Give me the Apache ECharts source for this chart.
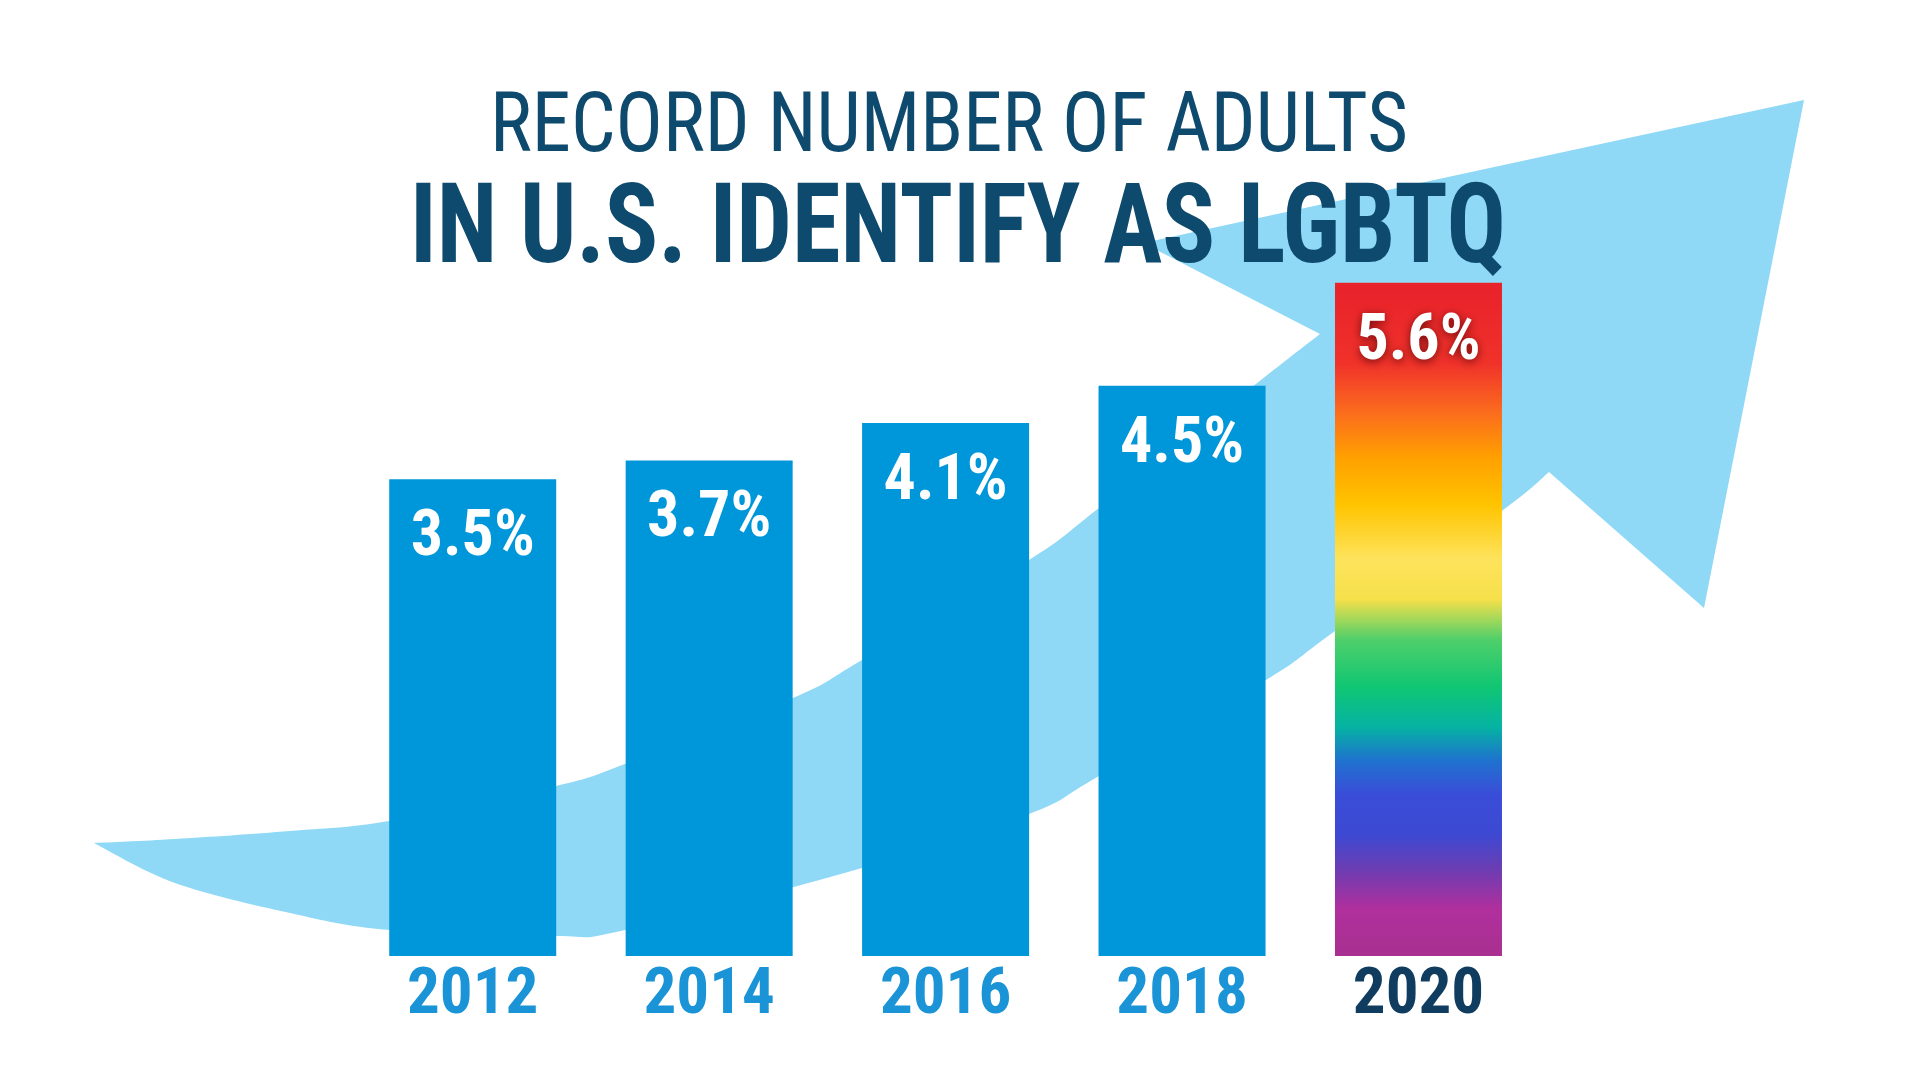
<!DOCTYPE html>
<html><head><meta charset="utf-8">
<script src="https://cdn.jsdelivr.net/npm/echarts@6/dist/echarts.min.js"></script>
<style>html,body{margin:0;padding:0;background:#fff}#main{width:1920px;height:1080px}</style>
</head><body><div id="main"></div>
<script>
// ---- data ----
const years = ['2012', '2014', '2016', '2018', '2020'];
const values = [3.5, 3.7, 4.1, 4.5, 5.6];
const titleLine1 = 'RECORD NUMBER OF ADULTS';
const titleLine2 = 'IN U.S. IDENTIFY AS LGBTQ';
const highlightYear = '2020';

// ---- decorative arrow outline (background shape, not data) ----
const arrowUpperEdge = [[94,843],[175,839],[290,831],[389,821],[556,786],[625,764],[793,698],[862,660],[1029,560],[1099,508],[1266,376],[1320,334]];
const arrowHeadPts = [[1143,243],[1804,100],[1704,608]];
const arrowLowerEdge = [[1549,472],[1503,510],[1335,631],[1266,680],[1099,776],[1029,814],[862,868],[625,930],[556,936],[389,930],[290,913],[175,883],[94,843]];

// ---- fonts ----
const ctx = document.createElement('canvas').getContext('2d');
function width(font, s){ ctx.font = font; return ctx.measureText(s).width; }
function hasFont(name){
  const s = 'RECORD NUMBER 2012 4.5% wmi';
  return width('72px monospace', s) !== width('72px "' + name + '", monospace', s) ||
         width('72px serif', s) !== width('72px "' + name + '", serif', s);
}
let FAMILY = 'Roboto';
if (hasFont('Roboto Condensed')) FAMILY = '"Roboto Condensed"';
else if (hasFont('DejaVu Sans Condensed')) FAMILY = '"DejaVu Sans Condensed"';

function fontStr(weight, size){ return weight + ' ' + size + 'px ' + FAMILY; }
function fitScale(weight, size, text, target){ return target / width(fontStr(weight, size), text); }

// sample a Catmull-Rom curve through the given points
function smoothPoints(pts){
  const out = [pts[0]];
  for (let i = 0; i < pts.length - 1; i++) {
    const p0 = pts[i-1] || pts[i], p1 = pts[i], p2 = pts[i+1], p3 = pts[i+2] || pts[i+1];
    const c1 = [p1[0] + (p2[0]-p0[0])/6, p1[1] + (p2[1]-p0[1])/6];
    const c2 = [p2[0] - (p3[0]-p1[0])/6, p2[1] - (p3[1]-p1[1])/6];
    for (let k = 1; k <= 16; k++) {
      const t = k / 16, u = 1 - t;
      out.push([
        u*u*u*p1[0] + 3*u*u*t*c1[0] + 3*u*t*t*c2[0] + t*t*t*p2[0],
        u*u*u*p1[1] + 3*u*u*t*c1[1] + 3*u*t*t*c2[1] + t*t*t*p2[1]
      ]);
    }
  }
  return out;
}
const arrowPolygon = smoothPoints(arrowUpperEdge).concat(arrowHeadPts, smoothPoints(arrowLowerEdge));

const rainbowStops = [
  {offset: 0.00, color: '#e8212b'},
  {offset: 0.12, color: '#f0322a'},
  {offset: 0.19, color: '#fb6a1e'},
  {offset: 0.26, color: '#ffa000'},
  {offset: 0.33, color: '#ffc400'},
  {offset: 0.41, color: '#fde35c'},
  {offset: 0.47, color: '#f6e04a'},
  {offset: 0.53, color: '#4fcf6a'},
  {offset: 0.60, color: '#10c673'},
  {offset: 0.66, color: '#05b3a3'},
  {offset: 0.71, color: '#1f72cf'},
  {offset: 0.76, color: '#3a4dd8'},
  {offset: 0.82, color: '#3d49d2'},
  {offset: 0.87, color: '#6b3db3'},
  {offset: 0.93, color: '#b02f9d'},
  {offset: 1.00, color: '#a83090'}
];

const Y_MIN = -1.6, Y_MAX = 6;
const BAR_WIDTH = 167, LABEL_SIZE = 64, YEAR_SIZE = 65;

const chart = echarts.init(document.getElementById('main'), null, {renderer: 'canvas'});
chart.setOption({
  backgroundColor: '#ffffff',
  animation: false,
  grid: {left: 354.5, right: 383.3, top: 245.4, bottom: 124, outerBoundsMode: 'none', containLabel: false},
  xAxis: {
    type: 'category', data: years,
    axisLine: {show: false}, axisTick: {show: false}, splitLine: {show: false},
    axisLabel: {
      margin: 8, fontSize: YEAR_SIZE, fontWeight: 'bold', fontFamily: FAMILY,
      color: v => v === highlightYear ? '#0f3c5f' : '#1a94d6'
    }
  },
  yAxis: {type: 'value', min: Y_MIN, max: Y_MAX, show: false},
  series: [{
    type: 'custom',
    data: values.map((v, i) => [i, v]),
    encode: {x: 0, y: 1},
    renderItem: function (params, api) {
      const x = api.value(0), v = api.value(1);
      const top = api.coord([x, v]);
      const base = api.coord([x, Y_MIN]);
      const hi = years[params.dataIndex] === highlightYear;
      const textStyle = {text: v + '%', fill: '#ffffff', font: fontStr('bold', LABEL_SIZE)};
      if (hi) { textStyle.textShadowColor = 'rgba(70,0,0,0.75)'; textStyle.textShadowBlur = 10; textStyle.textShadowOffsetY = 2; }
      return {
        type: 'rect',
        shape: {x: top[0] - BAR_WIDTH / 2, y: top[1], width: BAR_WIDTH, height: base[1] - top[1]},
        style: {fill: hi ? new echarts.graphic.LinearGradient(0, 0, 0, 1, rainbowStops) : '#0096da'},
        textContent: {style: textStyle},
        textConfig: {position: 'insideTop', distance: 28}
      };
    }
  }],
  graphic: [
    {type: 'polygon', z: -10, shape: {points: arrowPolygon}, style: {fill: '#8fd9f6'}},
    {type: 'text', z: 100, x: 949, y: 130, scaleX: fitScale('normal', 84, titleLine1, 918),
     style: {text: titleLine1, font: fontStr('normal', 84), fill: '#0e4a6e', align: 'center', verticalAlign: 'middle'}},
    {type: 'text', z: 100, x: 958, y: 234, scaleX: fitScale('bold', 112, titleLine2, 1096),
     style: {text: titleLine2, font: fontStr('bold', 112), fill: '#0e4a6e', align: 'center', verticalAlign: 'middle'}}
  ]
});
</script></body></html>
